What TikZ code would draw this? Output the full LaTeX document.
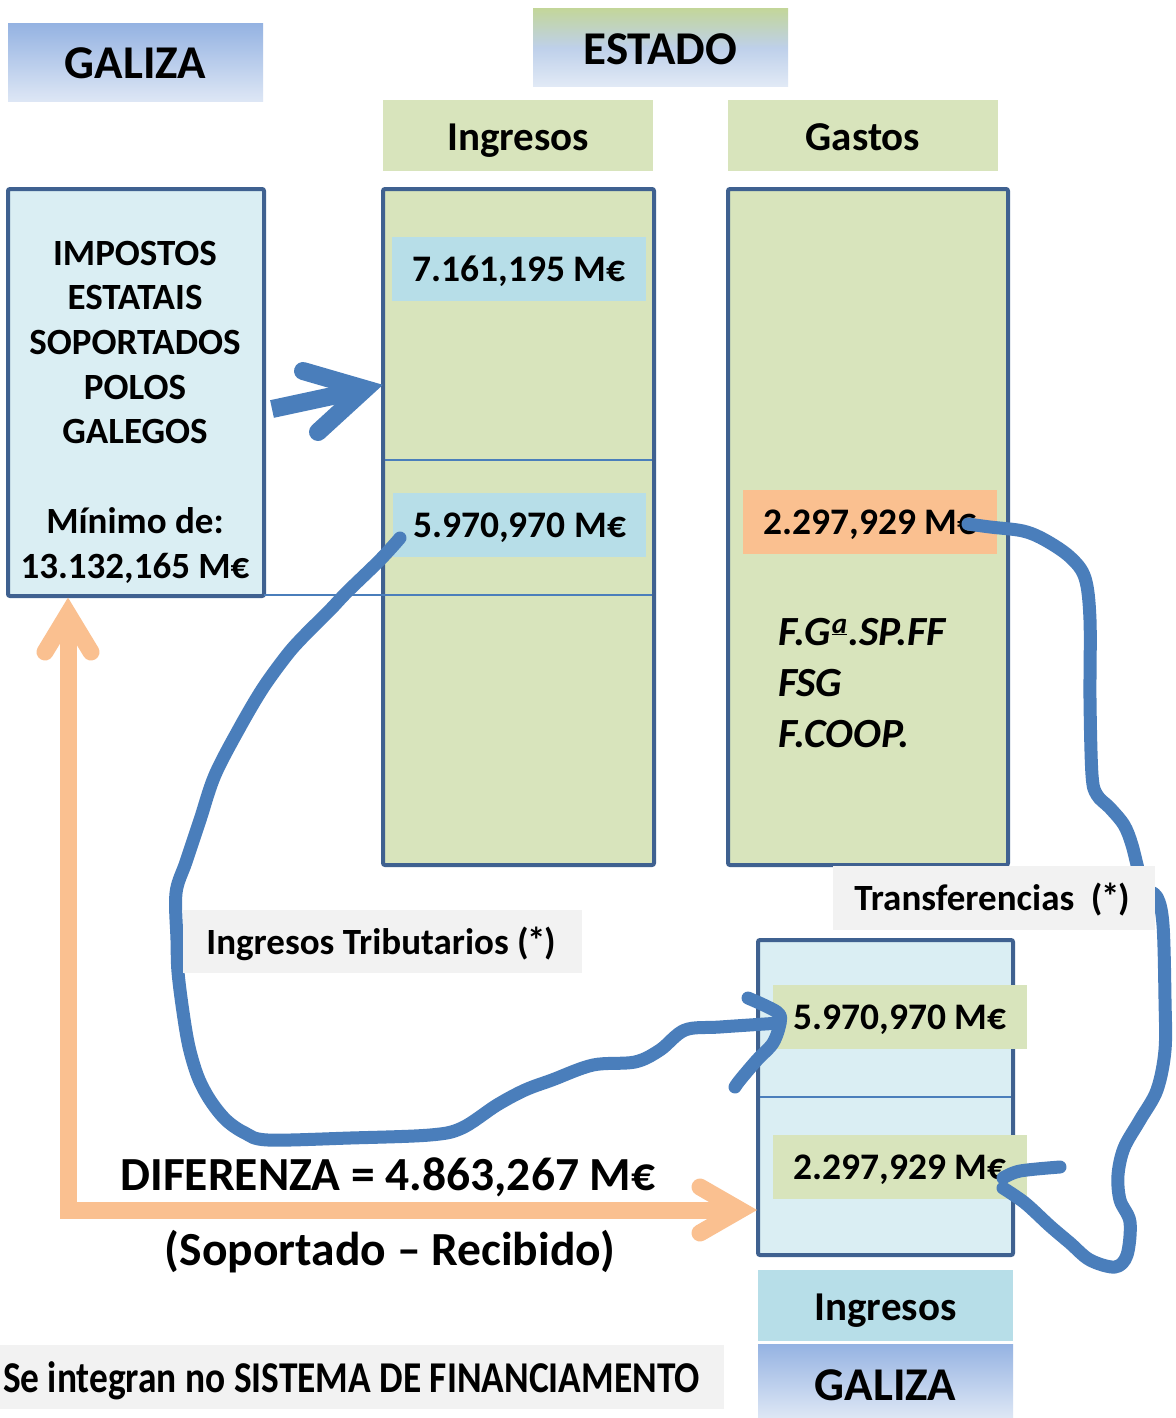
\documentclass[tikz,border=0pt]{standalone}
\usepackage{fontspec}
\usepackage{graphicx}
\setmainfont{Carlito}
\definecolor{bordc}{HTML}{3F6190}
\definecolor{lblue}{HTML}{DAEEF3}
\definecolor{lgreen}{HTML}{D8E4BC}
\definecolor{cyanb}{HTML}{B7DEE8}
\definecolor{orangef}{HTML}{FAC090}
\definecolor{greyf}{HTML}{F2F2F2}
\definecolor{curveblue}{HTML}{4A7EBB}
\definecolor{galtopc}{HTML}{95B3E2}
\definecolor{galbotc}{HTML}{DEE7F5}
\definecolor{esttopc}{HTML}{C3D69B}
\definecolor{estmidc}{HTML}{BED0EA}
\definecolor{estbotc}{HTML}{E2EAF6}
\newcommand{\starparen}{(\kern-1.5pt\raisebox{1pt}{*}\kern-1.5pt)}
\tikzset{
  titlefont/.style={font=\fontsize{47}{56}\selectfont\bfseries},
  colfont/.style={font=\fontsize{41}{49}\selectfont\bfseries},
  valfont/.style={font=\fontsize{37.5}{45}\selectfont\bfseries, text depth=0pt},
  leftfont/.style={font=\fontsize{37}{44.7}\selectfont\bfseries},
  ffont/.style={font=\fontsize{41.5}{50}\selectfont\bfseries\itshape},
  lblfont/.style={font=\fontsize{37}{44}\selectfont\bfseries},
  difffont/.style={font=\fontsize{47.5}{56}\selectfont\bfseries},
  sefont/.style={font=\fontsize{44}{52}\selectfont\bfseries},
  colbox/.style={draw=bordc, line width=4pt, rounded corners=2pt, inner sep=0},
  flatbox/.style={inner sep=0, outer sep=0},
  divider/.style={draw=curveblue, line width=1.8pt},
  orangestroke/.style={draw=orangef, line width=17pt},
  bigbluestroke/.style={draw=curveblue, line width=18pt},
  bluecurve/.style={draw=curveblue, line width=13pt, line cap=round, line join=round},
}
\begin{document}
\begin{tikzpicture}[x=1pt,y=-1pt]
\useasboundingbox (0,0) rectangle (1175,1418);
\fill[white] (0,0) rectangle (1175,1418);

% headers
\node[flatbox, shade, top color=galtopc, bottom color=galbotc, minimum width=255pt, minimum height=78pt, titlefont] (galiza1) at (135.5,63) {GALIZA};
\node[flatbox, shade, top color=esttopc, bottom color=estbotc, middle color=estmidc, minimum width=255pt, minimum height=78pt] (estado) at (660.5,48) {};
\node[flatbox, titlefont, anchor=base] (estadotxt) at (660.5,65) {ESTADO};
\node[flatbox, fill=lgreen, minimum width=270pt, minimum height=71pt] (ingh) at (518,135.5) {};
\node[flatbox, colfont, anchor=base] (inghtxt) at (518,150) {Ingresos};
\node[flatbox, fill=lgreen, minimum width=270pt, minimum height=71pt] (gash) at (863,135.5) {};
\node[flatbox, colfont, anchor=base] (gashtxt) at (863,150) {Gastos};

% left box
\node[colbox, fill=lblue, minimum width=256pt, minimum height=407pt] (impbox) at (136,392.5) {};
\node[flatbox, leftfont, align=center] (imptext) at (135,412) {IMPOSTOS\\ESTATAIS\\SOPORTADOS\\POLOS\\GALEGOS\\[44.7pt]Mínimo de:\\13.132,165 M€};

% columns
\node[colbox, fill=lgreen, minimum width=271pt, minimum height=676pt] (ingcol) at (518.5,527) {};
\node[colbox, fill=lgreen, minimum width=280pt, minimum height=676pt] (gascol) at (868,527) {};
\node[flatbox, fill=cyanb, minimum width=254pt, minimum height=64pt, valfont] (ing1) at (519,269) {7.161,195 M€};
\node[flatbox, fill=cyanb, minimum width=253pt, minimum height=64pt, valfont] (ing2) at (519.5,525) {5.970,970 M€};
\node[flatbox, fill=orangef, minimum width=254pt, minimum height=64pt, valfont] (gas1) at (870,522) {2.297,929 M€};
\node[flatbox, ffont, anchor=base west] (f1) at (778,645) {F.G\kern1pt\raisebox{12pt}{\fontsize{29}{29}\selectfont\underline{a}}\kern1pt.SP.FF};
\node[flatbox, ffont, anchor=base west] (f2) at (778,696) {FSG};
\node[flatbox, ffont, anchor=base west] (f3) at (778,747) {F.COOP.};

% dividers
\draw[divider] (385,460) -- (652,460);
\draw[divider] (264,595) -- (652,595);

% bottom Galiza box
\node[colbox, fill=lblue, minimum width=255pt, minimum height=315pt] (galbox) at (885.5,1097.5) {};
\draw[divider] (760,1097) -- (1011,1097);
\node[flatbox, fill=lgreen, minimum width=254pt, minimum height=64pt, valfont] (gal1) at (900,1017) {5.970,970 M€};
\node[flatbox, fill=lgreen, minimum width=254pt, minimum height=64pt, valfont] (gal2) at (900,1167) {2.297,929 M€};
\node[flatbox, fill=cyanb, minimum width=255pt, minimum height=71pt] (galing) at (885.5,1305.5) {};
\node[flatbox, colfont, anchor=base] (galingtxt) at (885.5,1320) {Ingresos};
\node[flatbox, shade, top color=galtopc, bottom color=galbotc, minimum width=255pt, minimum height=74pt] (galiza2) at (885.5,1381) {};
\node[flatbox, titlefont, anchor=base] (galiza2txt) at (885.5,1400) {GALIZA};

% bottom note
\node[flatbox, fill=greyf, minimum width=724pt, minimum height=64pt] (sebox) at (362,1377) {};
\node[flatbox, sefont, anchor=base west] (setext) at (3,1392) {\scalebox{0.85}[1]{Se integran no SISTEMA DE FINANCIAMENTO}};

% difference text
\node[flatbox, difffont, anchor=base] (dif) at (388,1190) {DIFERENZA = 4.863,267 M€};
\node[flatbox, difffont, anchor=base] (sop) at (390,1265) {(Soportado – Recibido)};

% orange arrows
\coordinate (ocorner) at (68,1210);
\coordinate (otipup) at (68,614);
\coordinate (otipright) at (740,1210);
\draw[orangestroke, line join=miter] (otipup) -- (ocorner) -- (otipright);
\draw[orangestroke, line cap=round, line join=miter] (45,652) -- (otipup) -- (91,652);
\draw[orangestroke, line cap=round, line join=miter] (700,1187) -- (otipright) -- (700,1233);

% big blue arrow
\coordinate (btail) at (272,409);
\coordinate (btip) at (365,389);
\draw[bigbluestroke] (btail) -- (btip);
\draw[bigbluestroke, line cap=round, line join=miter] (303,371) -- (btip) -- (318,432);

% left blue curve
\coordinate (c1s) at (400,538);
\coordinate (c1e) at (780,1023);
\draw[bluecurve] plot[smooth, tension=0.55] coordinates {(c1s) (380,560) (347,592) (330,610) (303,637) (287,655) (263,688) (240,727) (215,775) (200,820) (186,862) (176,893) (177,940) (178,972) (183,1012) (189,1047) (198,1077) (210,1100) (226,1120) (245,1133) (268,1140) (350,1138) (430,1135) (462,1128) (497,1105) (525,1090) (552,1080) (593,1065) (635,1062) (660,1050) (685,1030) (720,1027) (c1e)};
\draw[bluecurve] plot[smooth, tension=0.55] coordinates {(748,998) (777,1012) (c1e) (773,1043) (757,1060) (740,1080) (735,1087)};

% right blue curve
\coordinate (c2s) at (968,524);
\coordinate (c2e) at (1003,1188);
\draw[bluecurve] plot[smooth, tension=0.55] coordinates {(c2s) (990,527) (1023,531) (1045,540) (1070,557) (1085,578) (1090,620) (1090,700) (1092,775) (1097,795) (1110,808) (1124,825) (1132,845) (1143,885) (1157,897) (1163,925) (1165,1000) (1165,1050) (1157,1090) (1140,1120) (1124,1148) (1118,1175) (1120,1200) (1130,1222) (1127,1255) (1115,1267) (1090,1260) (1070,1243) (1050,1226) (1025,1203) (c2e)};
\draw[bluecurve] plot[smooth, tension=0.55] coordinates {(1003,1178) (1020,1171) (1060,1167)};

% grey labels on top
\node[flatbox, fill=greyf, minimum width=322pt, minimum height=64pt] (transf) at (994,898) {};
\node[flatbox, lblfont, anchor=base] (transftxt) at (992,910) {Transferencias\ \ \starparen};
\node[flatbox, fill=greyf, minimum width=399pt, minimum height=63pt] (tribut) at (382.5,941.5) {};
\node[flatbox, lblfont, anchor=base] (tributtxt) at (381,954) {Ingresos Tributarios \starparen};
\end{tikzpicture}
\end{document}
